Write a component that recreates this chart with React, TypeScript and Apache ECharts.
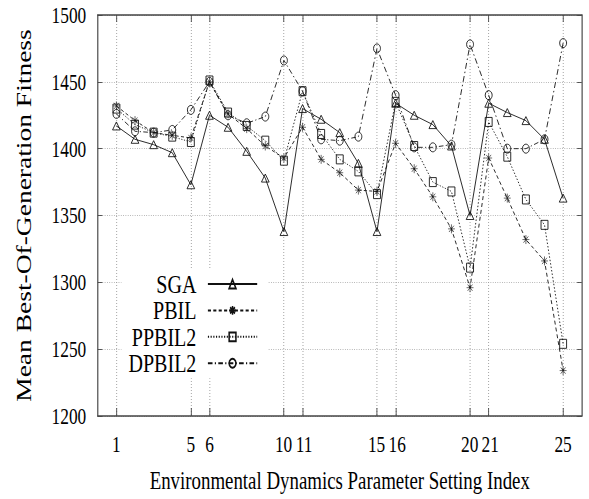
import React, { useEffect, useRef } from "react";
import * as echarts from "echarts";

const xIndex = [1, 2, 3, 4, 5, 6, 7, 8, 9, 10, 11, 12, 13, 14, 15, 16, 17, 18, 19, 20, 21, 22, 23, 24, 25];
const xTickValues = [1, 5, 6, 10, 11, 15, 16, 20, 21, 25];
const xTicksPairLeft = [10, 15, 20];
const xTicksPairRight = [11, 16, 21];

const sga = [1417, 1407, 1403, 1397, 1373, 1425, 1416, 1398, 1378, 1338, 1430, 1422, 1412, 1389, 1338, 1434, 1425, 1418, 1402, 1350, 1434, 1427, 1421, 1407, 1363];
const pbil = [1432, 1421, 1412, 1410, 1408, 1450, 1426, 1415, 1402, 1393, 1416, 1392, 1382, 1369, 1368, 1404, 1385, 1364, 1340, 1296, 1393, 1363, 1332, 1316, 1234];
const ppbil2 = [1430, 1418, 1412, 1409, 1405, 1451, 1427, 1417, 1406, 1391, 1443, 1411, 1392, 1383, 1366, 1435, 1402, 1375, 1368, 1311, 1420, 1394, 1362, 1343, 1254];
const dpbil2 = [1426, 1413, 1412, 1414, 1429, 1450, 1425, 1419, 1424, 1466, 1443, 1407, 1406, 1409, 1475, 1440, 1401, 1401, 1403, 1478, 1440, 1400, 1400, 1407, 1479];

const seriesNames = ["SGA", "PBIL", "PPBIL2", "DPBIL2"];
const xName = "Environmental Dynamics Parameter Setting Index";
const yName = "Mean Best-Of-Generation Fitness";

const SX = 0.77;
const W = Math.round(589 / SX);
const H = 499;
const SERIF = "Liberation Serif";
const INK = "#111";
const TICK_FONT = 22.5;

const ASTERISK = "path://M0,5L10,5M5,0L5,10M1.5,1.5L8.5,8.5M8.5,1.5L1.5,8.5";

function pairs(vals: number[]) {
  return xIndex.map((x, i) => [x, vals[i]]);
}

export default function App() {
  const ref = useRef<HTMLDivElement>(null);

  useEffect(() => {
    if (!ref.current) return;
    const chart = echarts.init(ref.current, null, { renderer: "svg" });

    const mk = (name: string, vals: number[], symbol: string, size: any, dash: any, bw: number) => ({
      name,
      type: "line",
      data: pairs(vals),
      symbol,
      symbolSize: size,
      lineStyle: { color: INK, width: 1, type: dash },
      itemStyle: { color: "transparent", borderColor: INK, borderWidth: bw },
      emphasis: { disabled: true },
      z: 3,
    });

    const fmt = (v: number) => String(v);
    const xFmt = (v: number) => {
      if (xTicksPairLeft.indexOf(v) >= 0) return `{l|${v}}`;
      if (xTicksPairRight.indexOf(v) >= 0) return `{r|${v}}`;
      return `{c|${v}}`;
    };
    const rt = { fontFamily: SERIF, fontSize: TICK_FONT, color: "#000" };

    const option: any = {
      animation: false,
      backgroundColor: "#fff",
      textStyle: { fontFamily: SERIF },
      grid: { left: 127, right: 9.5, top: 15, bottom: 81, containLabel: false },
      xAxis: [
        {
          type: "value",
          min: 0,
          max: 26,
          position: "bottom",
          name: xName,
          nameLocation: "middle",
          nameGap: 53,
          nameTextStyle: { fontFamily: SERIF, fontSize: 24.5, color: "#000" },
          axisLine: { show: true, onZero: false, lineStyle: { color: "#444", width: 1.5 } },
          axisTick: { show: true, inside: true, length: 8, customValues: xTickValues, lineStyle: { color: "#444", width: 1 } },
          axisLabel: {
            show: true,
            customValues: xTickValues,
            margin: 17,
            fontFamily: SERIF,
            fontSize: TICK_FONT,
            color: "#000",
            formatter: xFmt,
            rich: {
              c: { ...rt },
              l: { ...rt, padding: [0, 1, 0, 0] },
              r: { ...rt, padding: [0, 0, 0, 4] },
            },
          },
          splitLine: { show: true, lineStyle: { color: "#999", width: 1, type: [1, 2] } },
        },
        {
          type: "value",
          min: 0,
          max: 26,
          position: "top",
          axisLine: { show: true, onZero: false, lineStyle: { color: "#444", width: 1.5 } },
          axisTick: { show: true, inside: true, length: 7, customValues: xTickValues, lineStyle: { color: "#444", width: 1 } },
          axisLabel: { show: false, customValues: xTickValues },
          splitLine: { show: false },
        },
      ],
      yAxis: [
        {
          type: "value",
          min: 1200,
          max: 1500,
          interval: 50,
          position: "left",
          name: yName,
          nameLocation: "middle",
          nameGap: 82,
          nameTextStyle: { fontFamily: SERIF, fontSize: 27.5, color: "#000" },
          axisLine: { show: true, onZero: false, lineStyle: { color: "#444", width: 1.5 } },
          axisTick: { show: true, inside: true, length: 6, lineStyle: { color: "#444", width: 1 } },
          axisLabel: { margin: 15, fontFamily: SERIF, fontSize: TICK_FONT, color: "#000", formatter: fmt },
          splitLine: { show: true, lineStyle: { color: "#999", width: 1, type: [1, 2] } },
        },
        {
          type: "value",
          min: 1200,
          max: 1500,
          interval: 50,
          position: "right",
          axisLine: { show: true, onZero: false, lineStyle: { color: "#444", width: 1.5 } },
          axisTick: { show: true, inside: true, length: 6, lineStyle: { color: "#444", width: 1 } },
          axisLabel: { show: false },
          splitLine: { show: false },
        },
      ],
      legend: {
        orient: "vertical",
        align: "right",
        right: W - 348,
        top: 269,
        itemWidth: 64,
        itemHeight: 11,
        itemGap: 0.4,
        padding: [2, 13, 2, 9],
        backgroundColor: "#fff",
        z: 10,
        data: seriesNames,
        textStyle: { fontFamily: SERIF, fontSize: 26, color: "#000", lineHeight: 26, padding: [0, 10, 0, 0] },
      },
      series: [
        mk(seriesNames[0], sga, "triangle", [10, 8], "solid", 1),
        mk(seriesNames[1], pbil, ASTERISK, 9, [4, 3], 0.7),
        mk(seriesNames[2], ppbil2, "rect", 9, [1.5, 2], 1),
        mk(seriesNames[3], dpbil2, "circle", 9, [6, 3, 1.5, 3], 1),
      ],
    };

    chart.setOption(option);
    return () => chart.dispose();
  }, []);

  return (
    <div style={{ position: "absolute", left: 0, top: 0, width: 589, height: 499, overflow: "hidden", background: "#fff" }}>
      <div
        ref={ref}
        style={{ position: "absolute", left: 0, top: 0, width: W, height: H, transform: `scaleX(${SX})`, transformOrigin: "0 0" }}
      />
    </div>
  );
}
